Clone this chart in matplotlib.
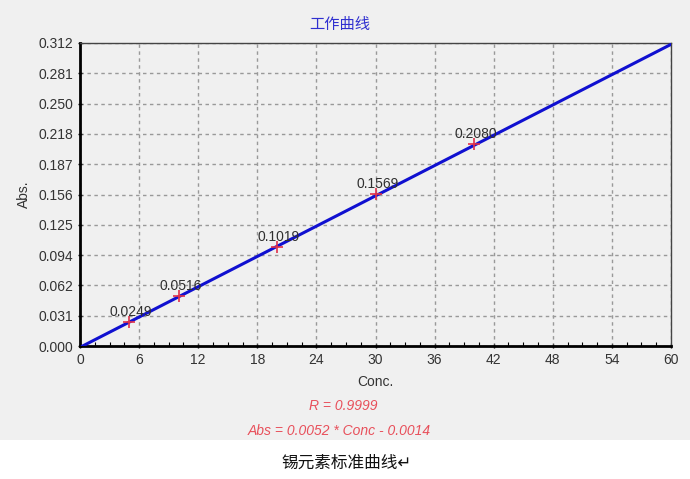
import numpy as np
import matplotlib
matplotlib.use("Agg")
import matplotlib.pyplot as plt
from matplotlib.patches import Rectangle
from matplotlib.ticker import MultipleLocator, FixedLocator

plt.rcParams['font.family'] = ['Liberation Sans', 'DejaVu Sans', 'Noto Sans CJK SC']

# standard points
conc = [5, 10, 20, 30, 40]
absorb = [0.0249, 0.0516, 0.1019, 0.1569, 0.2080]
point_labels = ["0.0249", "0.0516", "0.1019", "0.1569", "0.2080"]

# fitted line
slope = 0.0052
intercept = -0.0014
r_value = 0.9999

x_ticks = [0, 6, 12, 18, 24, 30, 36, 42, 48, 54, 60]
y_ticks = [0.0, 0.0312, 0.0624, 0.0936, 0.1248, 0.156, 0.1872, 0.2184, 0.2496, 0.2808, 0.312]
y_tick_labels = ["0.000", "0.031", "0.062", "0.094", "0.125", "0.156",
                 "0.187", "0.218", "0.250", "0.281", "0.312"]

bg = "#f0f0f0"
fig = plt.figure(figsize=(6.9, 4.79), dpi=100)
fig.patch.set_facecolor("white")
fig.add_artist(Rectangle((0, 39 / 479), 1, 440 / 479, transform=fig.transFigure,
                         facecolor=bg, edgecolor="none", zorder=-10))

W, H = 690, 479
ax = fig.add_axes([80 / W, (H - 346) / H, (671 - 80) / W, (346 - 43) / H])
ax.set_facecolor(bg)

x0 = -intercept / slope
xs = np.array([x0, 60])
ax.plot(xs, slope * xs + intercept, color="#1010d0", lw=2.2, zorder=3)
ax.plot(conc, absorb, linestyle="none", marker="+", color="#e0304a",
        markersize=9, mew=1.2, zorder=4)
for x, y, s in zip(conc, absorb, point_labels):
    ax.annotate(s, (x, y), xytext=(-14, 4), textcoords="offset points",
                fontsize=10, color="#303030", zorder=5)

ax.set_xlim(0, 60)
ax.set_ylim(0, 0.312)
ax.xaxis.set_major_locator(FixedLocator(x_ticks))
ax.xaxis.set_minor_locator(MultipleLocator(1.5))
ax.set_yticks(y_ticks)
ax.set_yticklabels(y_tick_labels)
ax.tick_params(axis="both", which="major", labelsize=10, labelcolor="#333333",
               length=3, width=1, direction="inout")
ax.tick_params(axis="x", which="minor", direction="in", length=3, width=0.8)
ax.grid(True, which="major", linestyle=(0, (2.5, 2.5)), color="#999999", lw=1)

for side in ["left", "bottom"]:
    ax.spines[side].set_linewidth(2)
for side in ["top", "right"]:
    ax.spines[side].set_linewidth(1)
    ax.spines[side].set_color("#444444")

ax.set_xlabel("Conc.", fontsize=10, color="#333333", labelpad=6)
ax.set_ylabel("Abs.", fontsize=10, color="#333333", labelpad=5)

fig.text(340 / W, 1 - 25 / H, "工作曲线", color="#3030d0", fontsize=11,
         ha="center", va="center", family=["Noto Sans CJK SC", "DejaVu Sans"])
fig.text(343 / W, 1 - 406 / H, f"R = {r_value:.4f}", color="#e8505b",
         fontsize=10, style="italic", ha="center", va="center")
fig.text(339 / W, 1 - 431 / H,
         f"Abs = {slope:.4f} * Conc - {abs(intercept):.4f}",
         color="#e8505b", fontsize=10, style="italic", ha="center", va="center")
fig.text(347 / W, 1 - 463 / H, "锡元素标准曲线↵", color="#111111", fontsize=12,
         ha="center", va="center", family=["Noto Sans CJK SC", "DejaVu Sans"])

fig.savefig("out.png", dpi=100, facecolor=fig.get_facecolor())
